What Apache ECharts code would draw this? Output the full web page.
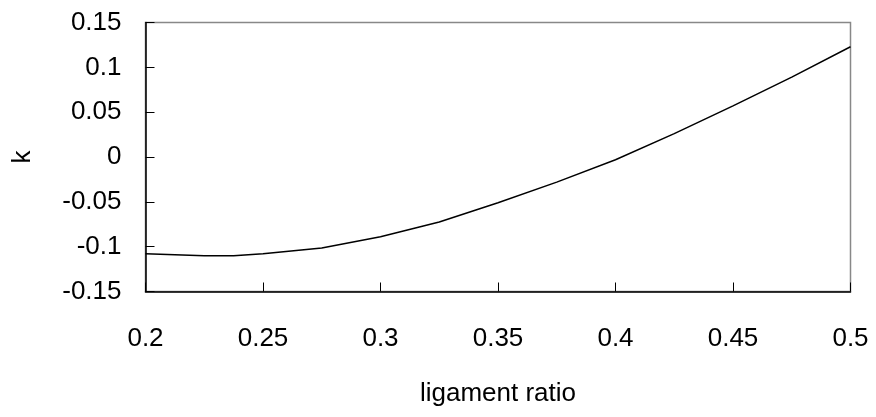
<!DOCTYPE html>
<html><head><meta charset="utf-8">
<script src="https://cdn.jsdelivr.net/npm/echarts@6/dist/echarts.min.js"></script>
<style>html,body{margin:0;padding:0;background:#fff}#c{width:876px;height:417px}</style>
</head><body><div id="c"></div>
<script>
const ratios = [0.2, 0.225, 0.2375, 0.25, 0.275, 0.3, 0.325, 0.35, 0.375, 0.4, 0.425, 0.45, 0.475, 0.5];
const kValues = [-0.108, -0.110, -0.110, -0.108, -0.1015, -0.089, -0.0725, -0.051, -0.028, -0.003, 0.026, 0.057, 0.089, 0.123];
const xTicks = [0.2, 0.25, 0.3, 0.35, 0.4, 0.45, 0.5];
const yTicks = [-0.15, -0.1, -0.05, 0, 0.05, 0.1, 0.15];

const chart = echarts.init(document.getElementById('c'));
const font = 'Liberation Sans, Arial, sans-serif';
chart.setOption({
  animation: false,
  grid: {left: 145.5, right: 25.5, top: 22.5, bottom: 125.5, show: true, borderColor: '#888', borderWidth: 1.5, backgroundColor: 'transparent'},
  xAxis: {
    type: 'value', min: 0.2, max: 0.5, interval: 0.05,
    name: 'ligament ratio', nameLocation: 'middle', nameGap: 89,
    nameTextStyle: {fontFamily: font, fontSize: 26, color: '#000'},
    axisLine: {onZero: false, lineStyle: {color: '#000', width: 1.5}},
    axisTick: {inside: true, length: 9, lineStyle: {color: '#000', width: 1}},
    axisLabel: {margin: 34, fontFamily: font, fontSize: 26, color: '#000',
      formatter: v => { const m = xTicks.find(t => Math.abs(t - v) < 1e-9); return m === undefined ? '' : String(m); }},
    splitLine: {show: false}
  },
  yAxis: {
    type: 'value', min: -0.15, max: 0.15, interval: 0.05,
    name: 'k', nameLocation: 'middle', nameGap: 110,
    nameTextStyle: {fontFamily: font, fontSize: 26, color: '#000'},
    axisLine: {show: true, onZero: false, lineStyle: {color: '#000', width: 1.5}},
    axisTick: {show: true, inside: true, length: 9, lineStyle: {color: '#000', width: 1}},
    axisLabel: {margin: 24, fontFamily: font, fontSize: 26, color: '#000',
      formatter: v => { const m = yTicks.find(t => Math.abs(t - v) < 1e-9); return m === undefined ? '' : String(m); }},
    splitLine: {show: false}
  },
  series: [{
    type: 'line', data: ratios.map((r, i) => [r, kValues[i]]),
    showSymbol: false, symbol: 'none', smooth: false,
    lineStyle: {color: '#000', width: 1.5}
  }]
});
</script></body></html>
